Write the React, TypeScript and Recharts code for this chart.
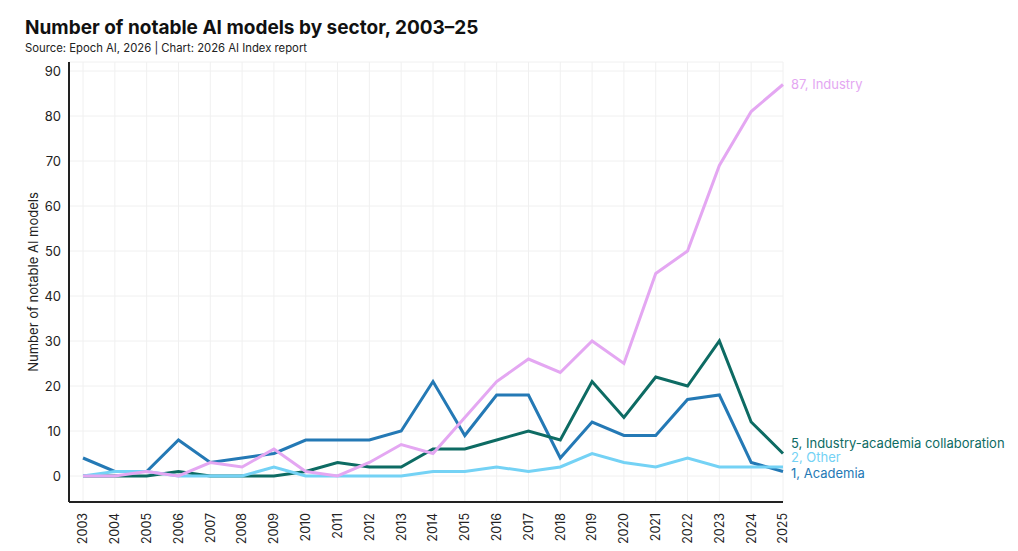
import { LineChart, Line, XAxis, YAxis, CartesianGrid, LabelList } from 'recharts';

const years = ['2003', '2004', '2005', '2006', '2007', '2008', '2009', '2010', '2011', '2012', '2013', '2014', '2015', '2016', '2017', '2018', '2019', '2020', '2021', '2022', '2023', '2024', '2025'];
const industry = [0, 0, 1, 0, 3, 2, 6, 1, 0, 3, 7, 5, 13, 21, 26, 23, 30, 25, 45, 50, 69, 81, 87];
const collaboration = [0, 0, 0, 1, 0, 0, 0, 1, 3, 2, 2, 6, 6, 8, 10, 8, 21, 13, 22, 20, 30, 12, 5];
const academia = [4, 1, 1, 8, 3, 4, 5, 8, 8, 8, 10, 21, 9, 18, 18, 4, 12, 9, 9, 17, 18, 3, 1];
const other = [0, 1, 1, 0, 0, 0, 2, 0, 0, 0, 0, 1, 1, 2, 1, 2, 5, 3, 2, 4, 2, 2, 2];
const yTicks = [0, 10, 20, 30, 40, 50, 60, 70, 80, 90];

const data = years.map((year, i) => ({
  year,
  industry: industry[i],
  collaboration: collaboration[i],
  academia: academia[i],
  other: other[i],
}));

const FONT = 'Inter, "Noto Sans", sans-serif';

const endLabel = (name: string, color: string, dy: number) => (props: any) => {
  const { x, y, index, value } = props;
  if (index !== years.length - 1) return null;
  return (
    <text x={x + 8} y={y + dy} fill={color} fontSize={13} fontFamily={FONT} dominantBaseline="central">
      {`${value}, ${name}`}
    </text>
  );
};

const YearTick = (props: any) => {
  const { x, y, payload } = props;
  return (
    <g transform={`translate(${x},${y + 3}) rotate(-90)`}>
      <text textAnchor="end" dy="0.35em" fontSize={12.5} fill="#222" fontFamily={FONT}>
        {payload.value}
      </text>
    </g>
  );
};

const App = () => {
  return (
    <div style={{ position: 'absolute', left: 0, top: 0, width: 1018, height: 551, background: '#fff', fontFamily: FONT }}>
      <div style={{ position: 'absolute', left: 25, top: 16, fontSize: 19, fontWeight: 700, color: '#111', whiteSpace: 'nowrap' }}>
        Number of notable AI models by sector, 2003–25
      </div>
      <div style={{ position: 'absolute', left: 25, top: 41, fontSize: 11.3, color: '#222', whiteSpace: 'nowrap' }}>
        Source: Epoch AI, 2026 | Chart: 2026 AI Index report
      </div>
      <LineChart width={1018} height={551} data={data} margin={{ top: 62, right: 235, bottom: 4, left: 20 }}>
        <CartesianGrid stroke="#f0f0f0" strokeWidth={1} />
        <XAxis
          dataKey="year"
          interval={0}
          padding={{ left: 14, right: 0 }}
          height={45}
          tick={<YearTick />}
          tickLine={false}
          axisLine={{ stroke: '#222', strokeWidth: 2 }}
        />
        <YAxis
          domain={[0, 92]}
          ticks={yTicks}
          width={49}
          padding={{ bottom: 26, top: 0 }}
          tickLine={false}
          axisLine={{ stroke: '#222', strokeWidth: 2 }}
          tick={{ fontSize: 13, fill: '#222', fontFamily: FONT }}
          label={{ value: 'Number of notable AI models', angle: -90, position: 'insideLeft', dx: 8, dy: 0, style: { fontSize: 13, fill: '#222', fontFamily: FONT, textAnchor: 'middle' } }}
        />
        <Line dataKey="academia" stroke="#2479b5" strokeWidth={3} dot={false} isAnimationActive={false}>
          <LabelList dataKey="academia" content={endLabel('Academia', '#2479b5', 1)} />
        </Line>
        <Line dataKey="collaboration" stroke="#0d6b63" strokeWidth={3} dot={false} isAnimationActive={false}>
          <LabelList dataKey="collaboration" content={endLabel('Industry-academia collaboration', '#0d6b63', -11)} />
        </Line>
        <Line dataKey="other" stroke="#74d2f5" strokeWidth={3} dot={false} isAnimationActive={false}>
          <LabelList dataKey="other" content={endLabel('Other', '#74d2f5', -10)} />
        </Line>
        <Line dataKey="industry" stroke="#e4a7f2" strokeWidth={3} dot={false} isAnimationActive={false}>
          <LabelList dataKey="industry" content={endLabel('Industry', '#e4a7f2', -1)} />
        </Line>
      </LineChart>
    </div>
  );
};

export default App;
